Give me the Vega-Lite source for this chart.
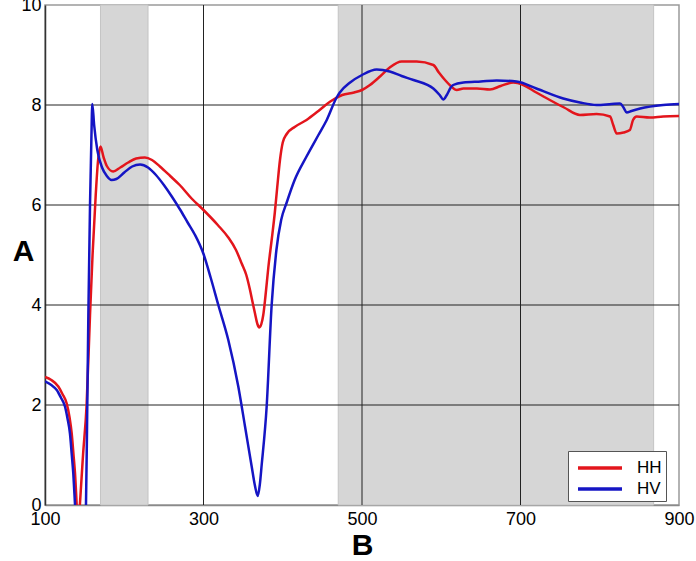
{
  "$schema": "https://vega.github.io/schema/vega-lite/v6.json",
  "width": 634,
  "height": 500,
  "autosize": "none",
  "padding": {"left": 45, "top": 5, "right": 17, "bottom": 56},
  "background": "white",
  "datasets": {
    "bands": [
      {"x": 170, "x2": 230},
      {"x": 470, "x2": 868}
    ],
    "vgrid": [{"x": 300}, {"x": 500}, {"x": 700}],
    "hgrid": [{"y": 2}, {"y": 4}, {"y": 6}, {"y": 8}],
    "curves": [
      {"series": "HH", "x": 100, "y": 2.56},
      {"series": "HH", "x": 108, "y": 2.5},
      {"series": "HH", "x": 116.8, "y": 2.37},
      {"series": "HH", "x": 122, "y": 2.22},
      {"series": "HH", "x": 127.4, "y": 2.03},
      {"series": "HH", "x": 131, "y": 1.75},
      {"series": "HH", "x": 133.7, "y": 1.43},
      {"series": "HH", "x": 136, "y": 1.0},
      {"series": "HH", "x": 137.9, "y": 0.63},
      {"series": "HH", "x": 140, "y": 0},
      {"series": "HH", "x": 142, "y": -0.6},
      {"series": "HH", "x": 144, "y": 0},
      {"series": "HH", "x": 148, "y": 1.0},
      {"series": "HH", "x": 152.5, "y": 2.0},
      {"series": "HH", "x": 156.8, "y": 3.8},
      {"series": "HH", "x": 160, "y": 5.0},
      {"series": "HH", "x": 164, "y": 6.2},
      {"series": "HH", "x": 167, "y": 6.9},
      {"series": "HH", "x": 170, "y": 7.17},
      {"series": "HH", "x": 174, "y": 6.95},
      {"series": "HH", "x": 178, "y": 6.78},
      {"series": "HH", "x": 186, "y": 6.67},
      {"series": "HH", "x": 195, "y": 6.75},
      {"series": "HH", "x": 205, "y": 6.85},
      {"series": "HH", "x": 215, "y": 6.93},
      {"series": "HH", "x": 226, "y": 6.95},
      {"series": "HH", "x": 235, "y": 6.9},
      {"series": "HH", "x": 245, "y": 6.77},
      {"series": "HH", "x": 258, "y": 6.58},
      {"series": "HH", "x": 270, "y": 6.4},
      {"series": "HH", "x": 285, "y": 6.13},
      {"series": "HH", "x": 300, "y": 5.9},
      {"series": "HH", "x": 318, "y": 5.6},
      {"series": "HH", "x": 331.3, "y": 5.35},
      {"series": "HH", "x": 341, "y": 5.1},
      {"series": "HH", "x": 348.2, "y": 4.83},
      {"series": "HH", "x": 354, "y": 4.6},
      {"series": "HH", "x": 358.7, "y": 4.3},
      {"series": "HH", "x": 362, "y": 4.05},
      {"series": "HH", "x": 365, "y": 3.83},
      {"series": "HH", "x": 368, "y": 3.62},
      {"series": "HH", "x": 370.4, "y": 3.55},
      {"series": "HH", "x": 373, "y": 3.62},
      {"series": "HH", "x": 375.4, "y": 3.8},
      {"series": "HH", "x": 378, "y": 4.15},
      {"series": "HH", "x": 381.8, "y": 4.75},
      {"series": "HH", "x": 386, "y": 5.3},
      {"series": "HH", "x": 390, "y": 5.85},
      {"series": "HH", "x": 393, "y": 6.35},
      {"series": "HH", "x": 396.5, "y": 6.9},
      {"series": "HH", "x": 400, "y": 7.25},
      {"series": "HH", "x": 405, "y": 7.42},
      {"series": "HH", "x": 415, "y": 7.56},
      {"series": "HH", "x": 430, "y": 7.7},
      {"series": "HH", "x": 445, "y": 7.88},
      {"series": "HH", "x": 460, "y": 8.07},
      {"series": "HH", "x": 475, "y": 8.2},
      {"series": "HH", "x": 490, "y": 8.25},
      {"series": "HH", "x": 500, "y": 8.3},
      {"series": "HH", "x": 510, "y": 8.4},
      {"series": "HH", "x": 522.7, "y": 8.57},
      {"series": "HH", "x": 535, "y": 8.75},
      {"series": "HH", "x": 550, "y": 8.87},
      {"series": "HH", "x": 569, "y": 8.87},
      {"series": "HH", "x": 590, "y": 8.8},
      {"series": "HH", "x": 597, "y": 8.65},
      {"series": "HH", "x": 604.7, "y": 8.5},
      {"series": "HH", "x": 612, "y": 8.38},
      {"series": "HH", "x": 619.5, "y": 8.3},
      {"series": "HH", "x": 628, "y": 8.33},
      {"series": "HH", "x": 645, "y": 8.33},
      {"series": "HH", "x": 661.5, "y": 8.31},
      {"series": "HH", "x": 675, "y": 8.38},
      {"series": "HH", "x": 691, "y": 8.45},
      {"series": "HH", "x": 703.5, "y": 8.4},
      {"series": "HH", "x": 720, "y": 8.25},
      {"series": "HH", "x": 737, "y": 8.1},
      {"series": "HH", "x": 755, "y": 7.95},
      {"series": "HH", "x": 775, "y": 7.8},
      {"series": "HH", "x": 796, "y": 7.82},
      {"series": "HH", "x": 813, "y": 7.77},
      {"series": "HH", "x": 817, "y": 7.6},
      {"series": "HH", "x": 821.4, "y": 7.43},
      {"series": "HH", "x": 830, "y": 7.45},
      {"series": "HH", "x": 838, "y": 7.5},
      {"series": "HH", "x": 842, "y": 7.7},
      {"series": "HH", "x": 846.6, "y": 7.77},
      {"series": "HH", "x": 863, "y": 7.75},
      {"series": "HH", "x": 880, "y": 7.77},
      {"series": "HH", "x": 900, "y": 7.78},
      {"series": "HV", "x": 100, "y": 2.47},
      {"series": "HV", "x": 108, "y": 2.4},
      {"series": "HV", "x": 114.8, "y": 2.3},
      {"series": "HV", "x": 120, "y": 2.15},
      {"series": "HV", "x": 125.2, "y": 1.97},
      {"series": "HV", "x": 128.5, "y": 1.72},
      {"series": "HV", "x": 131.5, "y": 1.43},
      {"series": "HV", "x": 133.8, "y": 1.0},
      {"series": "HV", "x": 135.7, "y": 0.63},
      {"series": "HV", "x": 137.9, "y": 0},
      {"series": "HV", "x": 145, "y": -2.0},
      {"series": "HV", "x": 151.7, "y": 0},
      {"series": "HV", "x": 153, "y": 1.5},
      {"series": "HV", "x": 154.7, "y": 3.8},
      {"series": "HV", "x": 156.8, "y": 6.0},
      {"series": "HV", "x": 158.5, "y": 7.3},
      {"series": "HV", "x": 159.7, "y": 8.02},
      {"series": "HV", "x": 162, "y": 7.6},
      {"series": "HV", "x": 166, "y": 7.1},
      {"series": "HV", "x": 172, "y": 6.75},
      {"series": "HV", "x": 178, "y": 6.58},
      {"series": "HV", "x": 184, "y": 6.5},
      {"series": "HV", "x": 190, "y": 6.52},
      {"series": "HV", "x": 200, "y": 6.65},
      {"series": "HV", "x": 210, "y": 6.77},
      {"series": "HV", "x": 220, "y": 6.81},
      {"series": "HV", "x": 230, "y": 6.75},
      {"series": "HV", "x": 240, "y": 6.6},
      {"series": "HV", "x": 250, "y": 6.4},
      {"series": "HV", "x": 260, "y": 6.17},
      {"series": "HV", "x": 270, "y": 5.92},
      {"series": "HV", "x": 280, "y": 5.65},
      {"series": "HV", "x": 289.3, "y": 5.4},
      {"series": "HV", "x": 299.8, "y": 5.03},
      {"series": "HV", "x": 309, "y": 4.55},
      {"series": "HV", "x": 318.7, "y": 4.0},
      {"series": "HV", "x": 331.3, "y": 3.3},
      {"series": "HV", "x": 343.9, "y": 2.37},
      {"series": "HV", "x": 352.4, "y": 1.57},
      {"series": "HV", "x": 360.8, "y": 0.77},
      {"series": "HV", "x": 365, "y": 0.38},
      {"series": "HV", "x": 368.4, "y": 0.18},
      {"series": "HV", "x": 371, "y": 0.4},
      {"series": "HV", "x": 373.4, "y": 0.8},
      {"series": "HV", "x": 379.7, "y": 1.97},
      {"series": "HV", "x": 386, "y": 4.0},
      {"series": "HV", "x": 392, "y": 5.1},
      {"series": "HV", "x": 398, "y": 5.7},
      {"series": "HV", "x": 405, "y": 6.05},
      {"series": "HV", "x": 415, "y": 6.5},
      {"series": "HV", "x": 430, "y": 6.97},
      {"series": "HV", "x": 445, "y": 7.4},
      {"series": "HV", "x": 455.5, "y": 7.7},
      {"series": "HV", "x": 468, "y": 8.15},
      {"series": "HV", "x": 472, "y": 8.25},
      {"series": "HV", "x": 485, "y": 8.45},
      {"series": "HV", "x": 500, "y": 8.6},
      {"series": "HV", "x": 518.5, "y": 8.71},
      {"series": "HV", "x": 535, "y": 8.67},
      {"series": "HV", "x": 550, "y": 8.58},
      {"series": "HV", "x": 565, "y": 8.5},
      {"series": "HV", "x": 590, "y": 8.33},
      {"series": "HV", "x": 598, "y": 8.2},
      {"series": "HV", "x": 602.6, "y": 8.11},
      {"series": "HV", "x": 607, "y": 8.2},
      {"series": "HV", "x": 612, "y": 8.35},
      {"series": "HV", "x": 615, "y": 8.4},
      {"series": "HV", "x": 628, "y": 8.45},
      {"series": "HV", "x": 650, "y": 8.47},
      {"series": "HV", "x": 670, "y": 8.49},
      {"series": "HV", "x": 695, "y": 8.47},
      {"series": "HV", "x": 720, "y": 8.33},
      {"series": "HV", "x": 754, "y": 8.13},
      {"series": "HV", "x": 775, "y": 8.05},
      {"series": "HV", "x": 796, "y": 8.0},
      {"series": "HV", "x": 815, "y": 8.02},
      {"series": "HV", "x": 825.6, "y": 8.03},
      {"series": "HV", "x": 830, "y": 7.95},
      {"series": "HV", "x": 834, "y": 7.85},
      {"series": "HV", "x": 840, "y": 7.88},
      {"series": "HV", "x": 851, "y": 7.93},
      {"series": "HV", "x": 880, "y": 8.0},
      {"series": "HV", "x": 900, "y": 8.02}
    ]
  },
  "layer": [
    {
      "data": {"name": "bands"},
      "mark": {"type": "rect", "color": "#d6d6d6", "stroke": "#c4c4c4", "strokeWidth": 1},
      "encoding": {
        "x": {
          "field": "x",
          "type": "quantitative",
          "title": "B",
          "scale": {"domain": [100, 900], "nice": false, "zero": false},
          "axis": {"values": [100, 300, 500, 700, 900]}
        },
        "x2": {"field": "x2"}
      }
    },
    {
      "data": {"name": "vgrid"},
      "mark": {"type": "rule", "color": "#222222", "strokeWidth": 1},
      "encoding": {
        "x": {
          "field": "x",
          "type": "quantitative",
          "title": "B",
          "axis": {"values": [100, 300, 500, 700, 900]}
        }
      }
    },
    {
      "data": {"name": "hgrid"},
      "mark": {"type": "rule", "color": "#222222", "strokeWidth": 1},
      "encoding": {
        "y": {
          "field": "y",
          "type": "quantitative",
          "title": "A",
          "scale": {"domain": [0, 10], "nice": false},
          "axis": {"values": [0, 2, 4, 6, 8, 10]}
        }
      }
    },
    {
      "data": {"name": "curves"},
      "mark": {"type": "line", "strokeWidth": 2.5, "clip": true, "interpolate": "monotone"},
      "encoding": {
        "x": {
          "field": "x",
          "type": "quantitative",
          "title": "B",
          "axis": {"values": [100, 300, 500, 700, 900]}
        },
        "y": {
          "field": "y",
          "type": "quantitative",
          "title": "A",
          "axis": {"values": [0, 2, 4, 6, 8, 10]}
        },
        "color": {
          "field": "series",
          "type": "nominal",
          "scale": {"domain": ["HH", "HV"], "range": ["#e3151c", "#1515c4"]},
          "legend": {
            "title": null,
            "orient": "none",
            "legendX": 523,
            "legendY": 446,
            "direction": "vertical",
            "symbolType": "M-2,0H2",
            "symbolSize": 484,
            "symbolStrokeWidth": 3.5,
            "labelFontSize": 17,
            "labelFont": "Liberation Sans",
            "labelColor": "black",
            "labelOffset": 24,
            "rowPadding": 0,
            "padding": 4,
            "symbolOffset": 15,
            "fillColor": "white",
            "strokeColor": "#555555"
          }
        }
      }
    }
  ],
  "config": {
    "view": {"stroke": "#9a9a9a", "strokeWidth": 1.5},
    "axis": {
      "grid": false,
      "ticks": false,
      "labelFontSize": 18,
      "labelFont": "Liberation Sans",
      "labelColor": "black",
      "labelFlush": false,
      "labelOverlap": false,
      "labelBound": false,
      "domainWidth": 1.5,
      "titleFont": "Liberation Sans",
      "titleFontSize": 30,
      "titleFontWeight": "bold",
      "titleColor": "black"
    },
    "axisX": {
      "labelPadding": 5,
      "domainColor": "#8a8a8a",
      "titleY": 40,
      "titleBaseline": "middle"
    },
    "axisY": {
      "labelPadding": 4,
      "domainColor": "#333333",
      "titleAngle": 0,
      "titleX": -22,
      "titleY": 246,
      "titleAlign": "center",
      "titleBaseline": "middle"
    }
  }
}
